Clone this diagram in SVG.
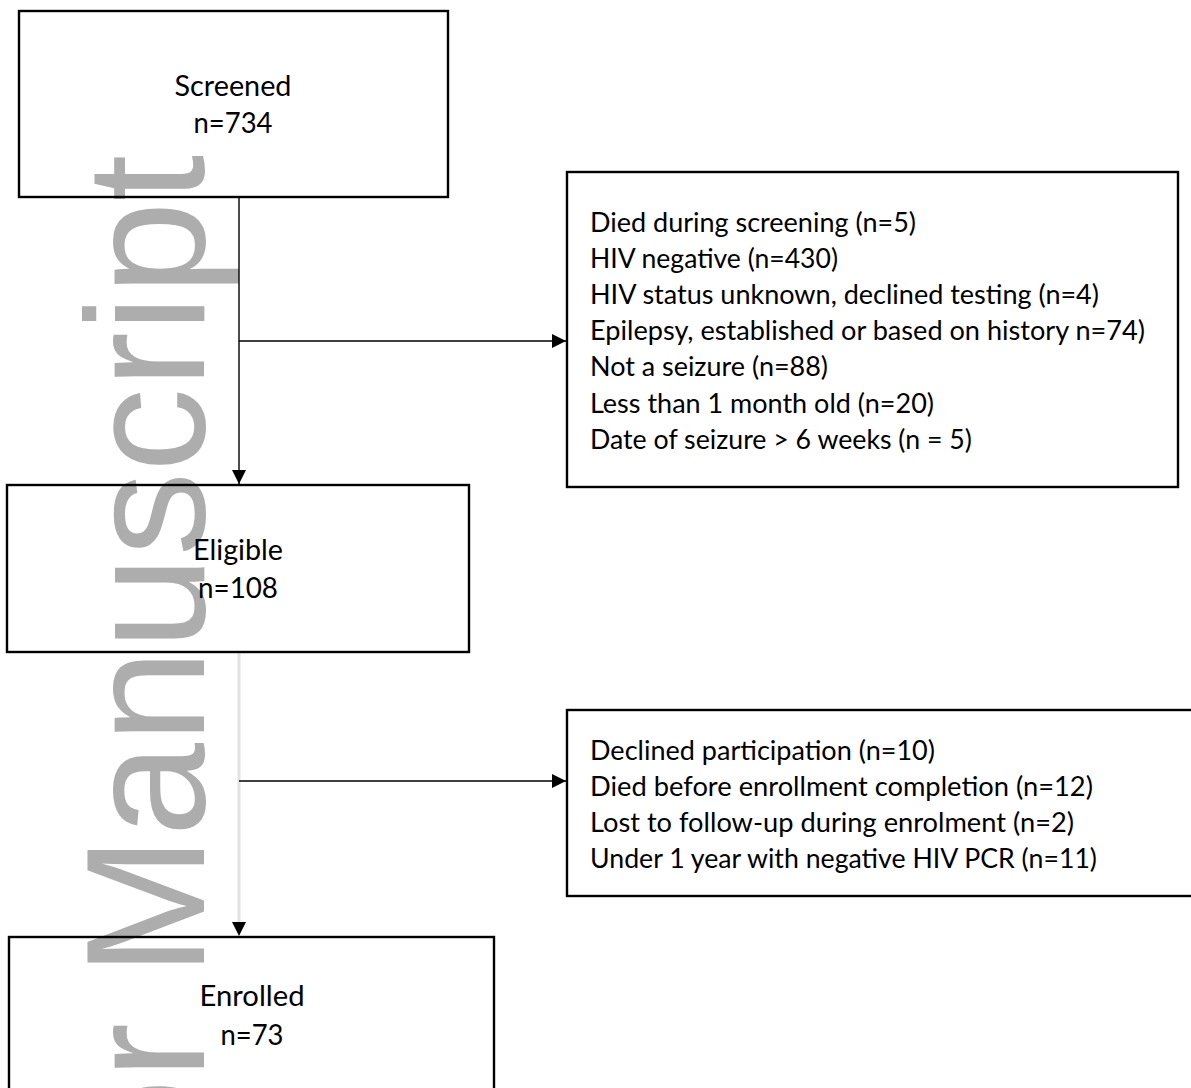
<svg xmlns="http://www.w3.org/2000/svg" width="1191" height="1088" viewBox="0 0 1191 1088">
  <style>
    .bg { fill: #ffffff; }
    .box { fill: none; stroke: #000000; stroke-width: 2.4; }
    .t { font-family: "Lato", "Open Sans", "Liberation Sans", sans-serif; fill: #000000; }
    .c { font-size: 28px; text-anchor: middle; }
    .l { font-size: 26px; }
    .conn { stroke: #000000; stroke-width: 1.4; fill: none; }
    .faint { stroke: #e2e2e2; stroke-width: 3; fill: none; }
    .wm { font-family: "Liberation Sans", Arial, sans-serif; font-size: 168px; fill: #adadad; }
  </style>
  <defs>
    <marker id="arrow" viewBox="0 0 14 14" refX="14" refY="7" markerWidth="14" markerHeight="14" markerUnits="userSpaceOnUse" orient="auto">
      <path d="M0,0 L14,7 L0,14 Z" fill="#000000"/>
    </marker>
  </defs>
  <rect class="bg" x="0" y="0" width="1191" height="1088"/>

  <g id="watermark">
    <text class="wm" transform="translate(204,1518) rotate(-90)">Author Manuscript</text>
  </g>

  <g id="connectors">
    <line class="conn" x1="239" y1="197" x2="239" y2="484" marker-end="url(#arrow)"/>
    <line class="conn" x1="239" y1="341" x2="566" y2="341" marker-end="url(#arrow)"/>
    <line class="faint" x1="239" y1="653" x2="239" y2="924"/>
    <line class="conn" x1="239" y1="922" x2="239" y2="936" marker-end="url(#arrow)" stroke-opacity="0"/>
    <line class="conn" x1="239" y1="781" x2="566" y2="781" marker-end="url(#arrow)"/>
  </g>

  <g id="screened">
    <rect class="box" x="19" y="11" width="429" height="186"/>
    <text class="t c" x="233" y="96" textLength="117" lengthAdjust="spacingAndGlyphs">Screened</text>
    <text class="t c" x="233" y="133" textLength="79" lengthAdjust="spacingAndGlyphs">n=734</text>
  </g>

  <g id="excluded-screening">
    <rect class="box" x="567" y="172" width="611" height="315"/>
    <text class="t l" x="590" y="231.5" textLength="326" lengthAdjust="spacingAndGlyphs">Died during screening (n=5)</text>
    <text class="t l" x="590" y="267.7" textLength="248" lengthAdjust="spacingAndGlyphs">HIV negative (n=430)</text>
    <text class="t l" x="590" y="303.9" textLength="509" lengthAdjust="spacingAndGlyphs">HIV status unknown, declined testing (n=4)</text>
    <text class="t l" x="590" y="340.1" textLength="555" lengthAdjust="spacingAndGlyphs">Epilepsy, established or based on history n=74)</text>
    <text class="t l" x="590" y="376.3" textLength="238" lengthAdjust="spacingAndGlyphs">Not a seizure (n=88)</text>
    <text class="t l" x="590" y="412.5" textLength="344" lengthAdjust="spacingAndGlyphs">Less than 1 month old (n=20)</text>
    <text class="t l" x="590" y="448.7" textLength="382" lengthAdjust="spacingAndGlyphs">Date of seizure &gt; 6 weeks (n = 5)</text>
  </g>

  <g id="eligible">
    <rect class="box" x="7" y="485" width="462" height="167"/>
    <text class="t c" x="238" y="560" textLength="90" lengthAdjust="spacingAndGlyphs">Eligible</text>
    <text class="t c" x="238" y="598" textLength="80" lengthAdjust="spacingAndGlyphs">n=108</text>
  </g>

  <g id="excluded-enrolment">
    <rect class="box" x="567" y="710" width="640" height="186"/>
    <text class="t l" x="590" y="759.5" textLength="345" lengthAdjust="spacingAndGlyphs">Declined participation (n=10)</text>
    <text class="t l" x="590" y="795.7" textLength="503" lengthAdjust="spacingAndGlyphs">Died before enrollment completion (n=12)</text>
    <text class="t l" x="590" y="831.9" textLength="484" lengthAdjust="spacingAndGlyphs">Lost to follow-up during enrolment (n=2)</text>
    <text class="t l" x="590" y="868.1" textLength="507" lengthAdjust="spacingAndGlyphs">Under 1 year with negative HIV PCR (n=11)</text>
  </g>

  <g id="enrolled">
    <rect class="box" x="9" y="937" width="485" height="170"/>
    <text class="t c" x="252" y="1006" textLength="105" lengthAdjust="spacingAndGlyphs">Enrolled</text>
    <text class="t c" x="252" y="1045" textLength="63" lengthAdjust="spacingAndGlyphs">n=73</text>
  </g>
</svg>
